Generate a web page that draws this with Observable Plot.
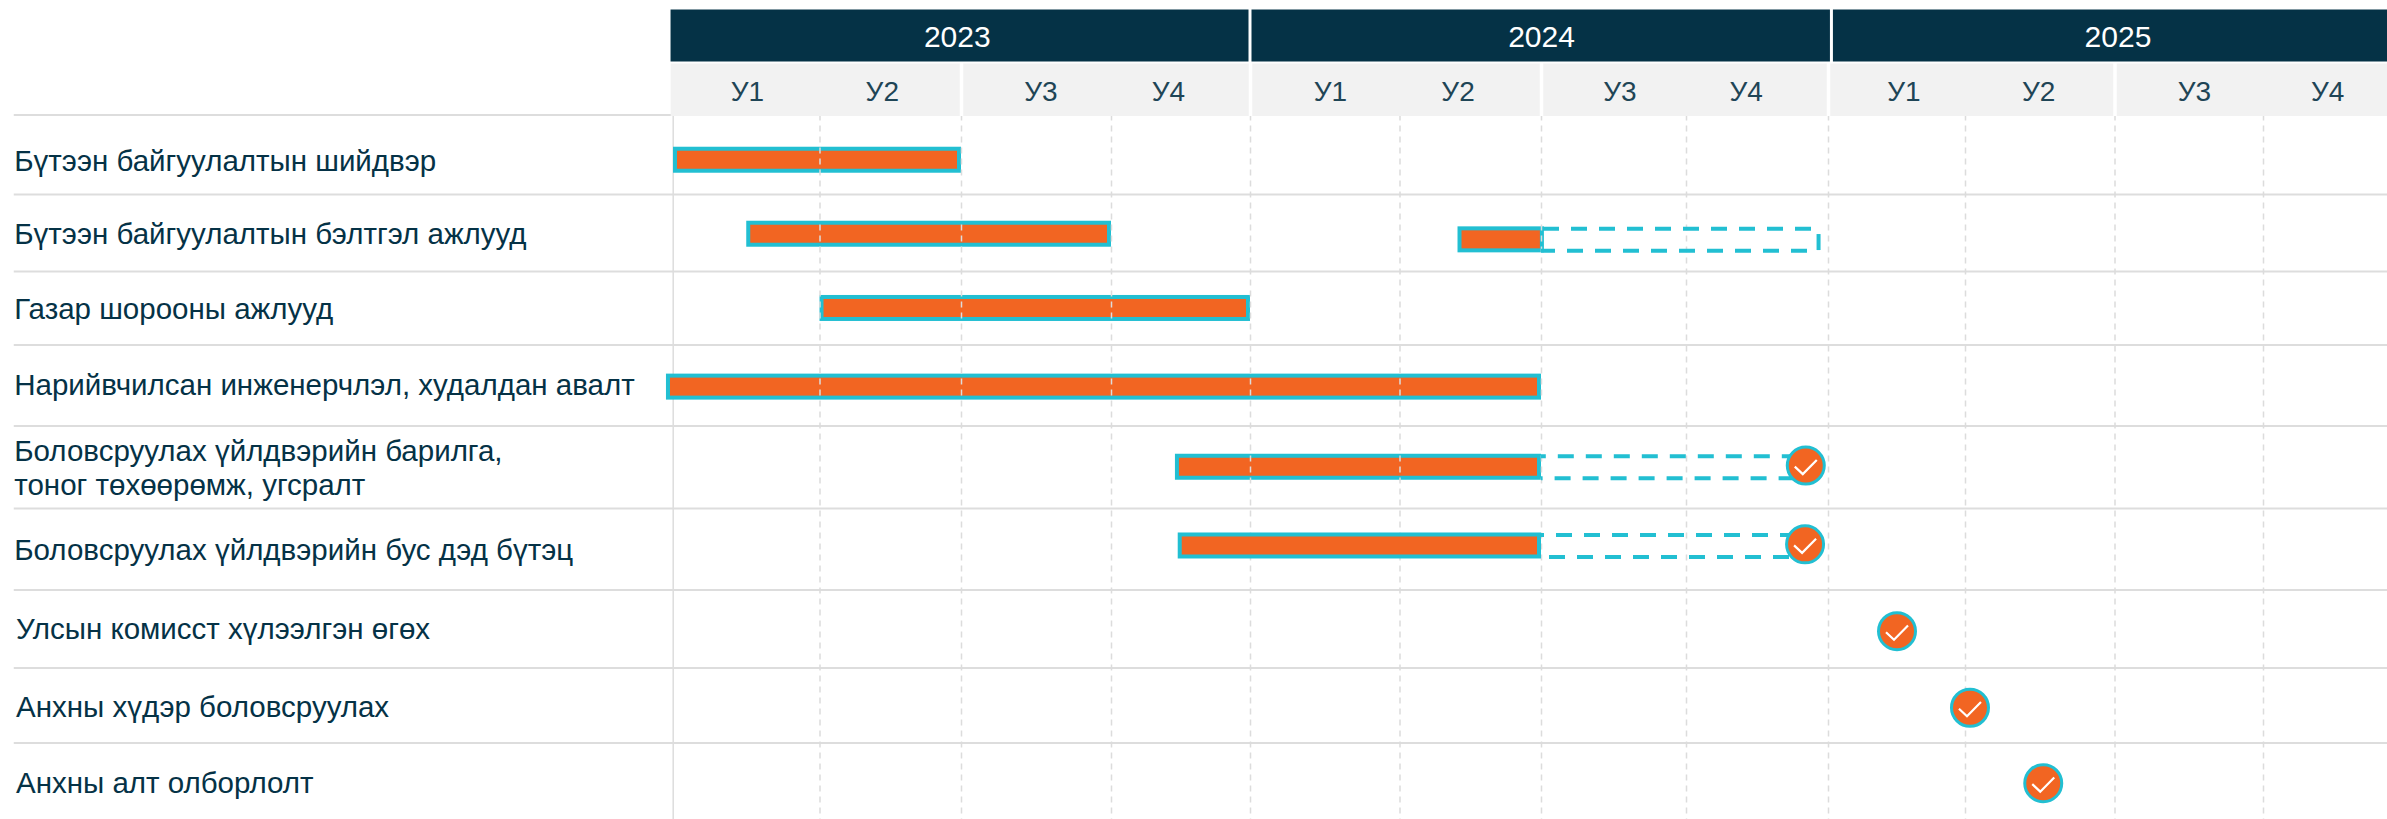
<!DOCTYPE html>
<html>
<head>
<meta charset="utf-8">
<style>html,body{margin:0;padding:0;background:#fff;overflow:hidden}svg{display:block}</style>
<script src="https://cdn.jsdelivr.net/npm/d3@7"></script>
<script src="https://cdn.jsdelivr.net/npm/@observablehq/plot@0.6"></script>
</head>
<body>
<div id="chart"></div>
<script>
// Time axis: positions are in quarters since the start of 2023
const years = ["2023", "2024", "2025"];
const yearStart = [-0.027, 4, 8.025];
const yearEnd = [4, 8.025, 12];
const yearLabelPos = [1.97, 6.0, 10.02];
const quarterLabels = ["У1","У2","У3","У4","У1","У2","У3","У4","У1","У2","У3","У4"];
const quarterLabelPos = [0.505,1.44,2.53,3.41,4.535,5.41,6.54,7.42,8.55,9.49,10.535,11.44];
const quarterLines = [1,2,3,4,5,6,7,8,9,10,11];

// Rows
const rowLabels = [
  "Бүтээн байгуулалтын шийдвэр",
  "Бүтээн байгуулалтын бэлтгэл ажлууд",
  "Газар шорооны ажлууд",
  "Нарийвчилсан инженерчлэл, худалдан авалт",
  "Боловсруулах үйлдвэрийн барилга,\nтоног төхөөрөмж, угсралт",
  "Боловсруулах үйлдвэрийн бус дэд бүтэц",
  "Улсын комисст хүлээлгэн өгөх",
  "Анхны хүдэр боловсруулах",
  "Анхны алт олборлолт"
];
const rowLabelY = [0.585,1.52,2.52,3.5,4.515,5.518,6.5,7.52,8.535];
const rowLabelX = [-4.5,-4.5,-4.5,-4.5,-4.5,-4.5,-4.488,-4.488,-4.488];
const rowEdges = [0,1,2,3,4,5,6,7,8];

// Completed bars
const barY     = [0.569,1.516,1.589,2.503,3.52,4.5,5.46];
const barStart = [0,0.5,5.41,1,-0.048,3.46,3.48];
const barEnd   = [2,3,6.02,4,6,6,6];

// Dashed (remaining) outlines
const dashY      = [1.589,4.5,5.46];
const dashStart  = [6,6,4];
const dashEnd    = [7.9,7.8,7.8];
const dashStartB = [6,6,6];
const endCapX = [7.93];

// Milestones
const mileX = [7.84,7.835,8.50,9.03,9.52];
const mileY = [4.48,5.44,6.528,7.53,8.525];

const navy = "#053246", teal = "#22BFD2", orange = "#F26522", grid = "#DCDCDC";
const bars = barY.map((y,i)=>({y,a:barStart[i],b:barEnd[i]}));
const check = {draw(c){c.moveTo(-11,1);c.lineTo(-3,8.5);c.lineTo(11,-5.7);}};
const barOpts = {x1:"a",x2:"b",y1:"y",y2:"y",fill:orange,stroke:teal,strokeWidth:4,insetTop:-11,insetBottom:-11,insetLeft:2,insetRight:2};
const dashBase = {stroke:teal,strokeWidth:4,strokeDasharray:"16,12"};
const topPhase = [2,16.8,26], bottomPhase = [26,13.6,8];

const chart = Plot.plot({
  width:2387,height:819,margin:0,
  style:{fontFamily:"'Liberation Sans',Arial,sans-serif",background:"#fff"},
  x:{axis:null,type:"linear",domain:[0,1,2,3,4,5,6,7,8,9,10,11,12],
     range:[673,819.5,961,1111,1250,1399.5,1541,1686,1828,1965,2114.5,2263,2409]},
  y:{axis:null,type:"linear",domain:[-2,-1,0,1,2,3,4,5,6,7,8,9],
     range:[9.5,61.5,114.5,194,271,344.5,425.5,508,589.5,667.5,742.5,819]},
  marks:[
    // row separators
    Plot.ruleY(rowEdges,{y:d=>d,x1:-4.5,x2:12,stroke:"#DDDDDD",strokeWidth:2}),
    Plot.ruleX([0],{x:d=>d,y1:0,y2:9,dx:-0.3,stroke:"#DDDDDD",strokeWidth:1.5}),
    // bars under the grid
    Plot.rect(bars.slice(0,6),barOpts),
    // grid
    Plot.ruleX(quarterLines,{x:d=>d,y1:0,y2:9,stroke:grid,strokeWidth:1.5,strokeDasharray:"6,5"}),
    // dashed remainder
    ...dashY.map((y,i)=>Plot.ruleY([y],{y:d=>d,x1:dashStart[i],x2:dashEnd[i],dy:-11,strokeDashoffset:28-topPhase[i],...dashBase})),
    ...dashY.map((y,i)=>Plot.ruleY([y],{y:d=>d,x1:dashStartB[i],x2:dashEnd[i],dy:11,strokeDashoffset:28-bottomPhase[i],...dashBase})),
    Plot.ruleX(endCapX,{x:d=>d,y1:1.52,y2:1.728,stroke:teal,strokeWidth:4}),
    // bar above the grid
    Plot.rect(bars.slice(6),barOpts),
    // milestones
    Plot.dot(mileX,{x:d=>d,y:(d,i)=>mileY[i],r:18.5,fill:orange,stroke:teal,strokeWidth:3}),
    Plot.dot(mileX,{x:d=>d,y:(d,i)=>mileY[i],symbol:check,r:10,fill:"none",stroke:"#fff",strokeWidth:2.2}),
    // quarter header
    Plot.rect([0],{x1:0,x2:12,y1:-1,y2:0,fill:"#F2F2F2",insetTop:2,insetBottom:-1.5,insetLeft:-2.3}),
    Plot.ruleX([2,4,6,8,10],{x:d=>d,y1:-1,y2:0,dy:1.5,stroke:"#fff",strokeWidth:3.5}),
    Plot.text(quarterLabels,{x:(d,i)=>quarterLabelPos[i],y:-0.5,dy:3.5,text:d=>d,fontSize:28,fill:"#1F4556"}),
    // year header
    Plot.rect(years,{x1:(d,i)=>yearStart[i],x2:(d,i)=>yearEnd[i],y1:-2,y2:-1,fill:navy,insetLeft:1.5,insetRight:1.5}),
    Plot.text(years,{x:(d,i)=>yearLabelPos[i],y:-1.5,dy:1,text:d=>d,fontSize:30,fill:"#fff"}),
    // row labels
    Plot.text(rowLabels,{x:(d,i)=>rowLabelX[i],y:(d,i)=>rowLabelY[i],dy:-1.5,text:d=>d,textAnchor:"start",fontSize:29.5,lineHeight:1.17,fill:navy})
  ]
});
document.getElementById("chart").appendChild(chart);
</script>
</body>
</html>
